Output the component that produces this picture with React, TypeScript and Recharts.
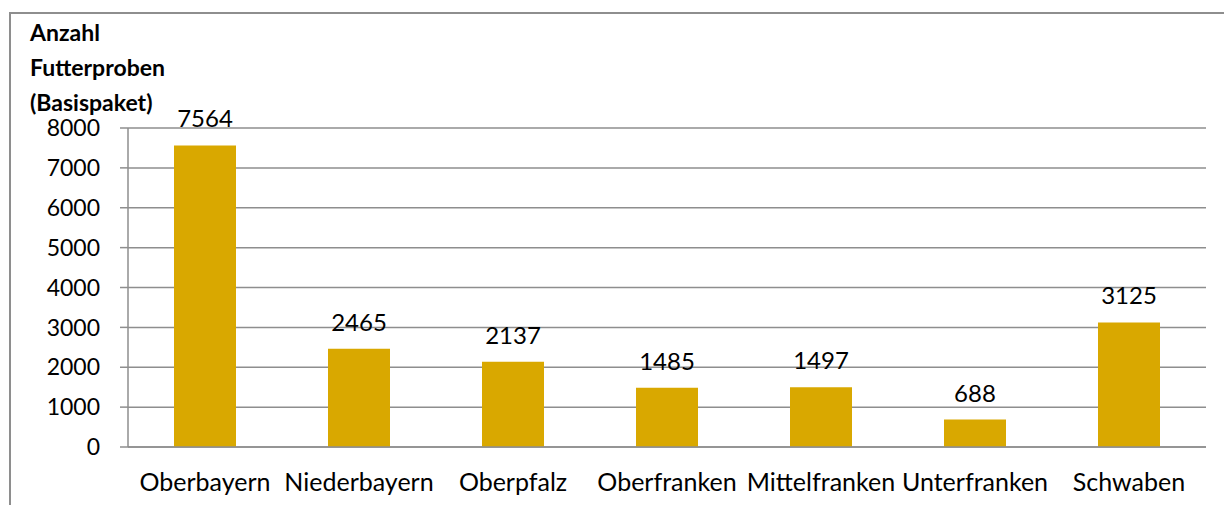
import { BarChart, Bar, XAxis, YAxis, CartesianGrid, LabelList } from "recharts";

const regions = [
  "Oberbayern",
  "Niederbayern",
  "Oberpfalz",
  "Oberfranken",
  "Mittelfranken",
  "Unterfranken",
  "Schwaben",
];
const samples = [7564, 2465, 2137, 1485, 1497, 688, 3125];
const yTicks = [0, 1000, 2000, 3000, 4000, 5000, 6000, 7000, 8000];
const titleLines = ["Anzahl", "Futterproben", "(Basispaket)"];

const data = regions.map((name, i) => ({ name, value: samples[i] }));

const FONT = "Lato, 'Open Sans', sans-serif";
const GRID = "#8e8e8e";

export default function App() {
  return (
    <div
      style={{
        position: "absolute",
        left: 0,
        top: 0,
        width: 1224,
        height: 505,
        overflow: "hidden",
        background: "#fff",
        fontFamily: FONT,
      }}
    >
      {/* chart frame, cut off on the right and bottom */}
      <div
        style={{
          position: "absolute",
          left: 9,
          top: 12,
          width: 1400,
          height: 700,
          border: "2px solid #8e8e8e",
          boxSizing: "border-box",
        }}
      />
      <div
        style={{
          position: "absolute",
          left: 30,
          top: 15,
          fontWeight: 700,
          fontSize: 23,
          lineHeight: "35px",
          color: "#000",
        }}
      >
        {titleLines.map((l) => (
          <div key={l}>{l}</div>
        ))}
      </div>
      <div style={{ position: "absolute", left: 0, top: 0 }}>
        <BarChart
          width={1224}
          height={505}
          data={data}
          margin={{ top: 128, right: 18, bottom: 0, left: 0 }}
          barCategoryGap={0}
        >
          <CartesianGrid vertical={false} stroke={GRID} strokeWidth={1.5} />
          <XAxis
            dataKey="name"
            height={58}
            tickLine={false}
            axisLine={{ stroke: GRID, strokeWidth: 1.5 }}
            tickSize={0}
            tickMargin={26}
            interval={0}
            tick={{ fill: "#000", fontSize: 25, fontFamily: FONT }}
          />
          <YAxis
            width={128}
            domain={[0, 8000]}
            ticks={yTicks}
            interval={0}
            tickSize={8}
            tickMargin={20}
            tickLine={{ stroke: GRID, strokeWidth: 1.5 }}
            axisLine={{ stroke: GRID, strokeWidth: 1.5 }}
            tick={{ fill: "#000", fontSize: 23, fontFamily: FONT }}
          />
          <Bar dataKey="value" fill="#D9A800" barSize={62} isAnimationActive={false}>
            <LabelList
              dataKey="value"
              position="top"
              offset={18}
              fill="#000"
              fontSize={24}
              fontFamily={FONT}
            />
          </Bar>
        </BarChart>
      </div>
    </div>
  );
}
